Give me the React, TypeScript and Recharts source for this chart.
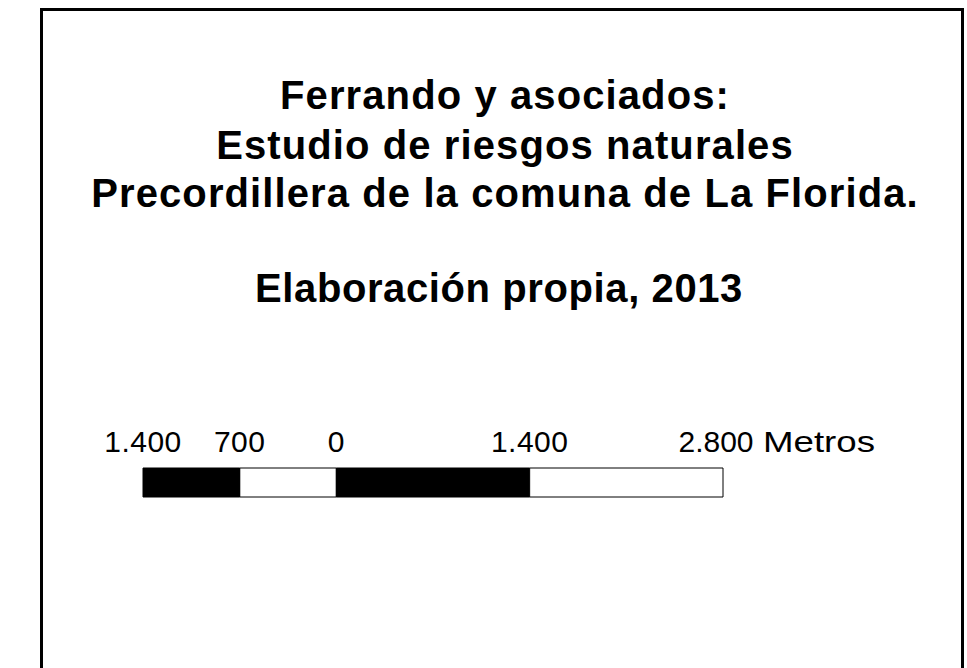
import React from 'react';
import { BarChart, Bar, XAxis, YAxis } from 'recharts';

// scale bar values (metres)
const tickValues = [-1400, -700, 0, 1400, 2800];
const tickLabels = ['1.400', '700', '0', '1.400', '2.800 Metros'];
const segmentKeys = ['s1', 's2', 's3', 's4'];
const segmentLengths = [-700, -700, 1400, 1400];
const segmentFills = ['#ffffff', '#000000', '#000000', '#ffffff'];

const titleLines = [
  'Ferrando y asociados:',
  'Estudio de riesgos naturales',
  'Precordillera de la comuna de La Florida.',
];
const sourceLine = 'Elaboración propia, 2013';

const FONT = '"Liberation Sans", Arial, Helvetica, sans-serif';

const row: Record<string, number | string> = { name: 'escala' };
segmentKeys.forEach((k, i) => {
  row[k] = segmentLengths[i];
});
const data = [row];

const ScaleTick = ({ x, y, payload }: { x?: number; y?: number; payload?: { value: number } }) => {
  const idx = tickValues.indexOf(payload?.value ?? 0);
  const label = tickLabels[idx] ?? '';
  const cx = x ?? 0;
  const sp = label.indexOf(' ');
  if (sp > 0) {
    // value centred on its mark, unit name trailing on the right
    return (
      <g>
        <text x={cx - 7} y={y} textAnchor="middle" fontFamily={FONT} fontSize={30} fill="#000">
          {label.slice(0, sp)}
        </text>
        <text
          x={cx + 40}
          y={y}
          fontFamily={FONT}
          fontSize={30}
          textLength={112}
          lengthAdjust="spacingAndGlyphs"
          fill="#000"
        >
          {label.slice(sp + 1)}
        </text>
      </g>
    );
  }
  return (
    <text x={cx} y={y} textAnchor="middle" fontFamily={FONT} fontSize={30} letterSpacing={0.5} fill="#000">
      {label}
    </text>
  );
};

const App: React.FC = () => {
  return (
    <div
      style={{
        position: 'absolute',
        left: 0,
        top: 0,
        width: 967,
        height: 668,
        overflow: 'hidden',
        background: '#fff',
      }}
    >
      {/* frame, open at the bottom */}
      <div
        style={{
          position: 'absolute',
          left: 40,
          top: 8,
          width: 924,
          height: 720,
          boxSizing: 'border-box',
          border: '3.5px solid #000',
        }}
      />

      <svg width={967} height={668} style={{ position: 'absolute', left: 0, top: 0 }}>
        {titleLines.map((t, i) => (
          <text
            key={t}
            x={505}
            y={[109, 159, 207][i]}
            textAnchor="middle"
            fontFamily={FONT}
            fontWeight="bold"
            fontSize={40}
            letterSpacing={1.1}
            fill="#000"
          >
            {t}
          </text>
        ))}
        <text
          x={499}
          y={302}
          textAnchor="middle"
          fontFamily={FONT}
          fontWeight="bold"
          fontSize={40}
          letterSpacing={0.6}
          fill="#000"
        >
          {sourceLine}
        </text>
      </svg>

      <div style={{ position: 'absolute', left: 0, top: 0 }}>
        <BarChart
          width={967}
          height={668}
          data={data}
          layout="vertical"
          stackOffset="sign"
          barCategoryGap={0}
          margin={{ top: 428, right: 244, bottom: 171, left: 143 }}
        >
          <XAxis
            type="number"
            orientation="top"
            domain={[-1400, 2800]}
            ticks={tickValues}
            interval={0}
            height={40}
            axisLine={false}
            tickLine={false}
            tickSize={0}
            tickMargin={16}
            tick={<ScaleTick />}
          />
          <YAxis type="category" dataKey="name" hide width={0} />
          {segmentKeys.map((k, i) => (
            <Bar
              key={k}
              dataKey={k}
              stackId="escala"
              fill={segmentFills[i]}
              stroke="#000"
              strokeWidth={1}
              isAnimationActive={false}
            />
          ))}
        </BarChart>
      </div>
    </div>
  );
};

export default App;
